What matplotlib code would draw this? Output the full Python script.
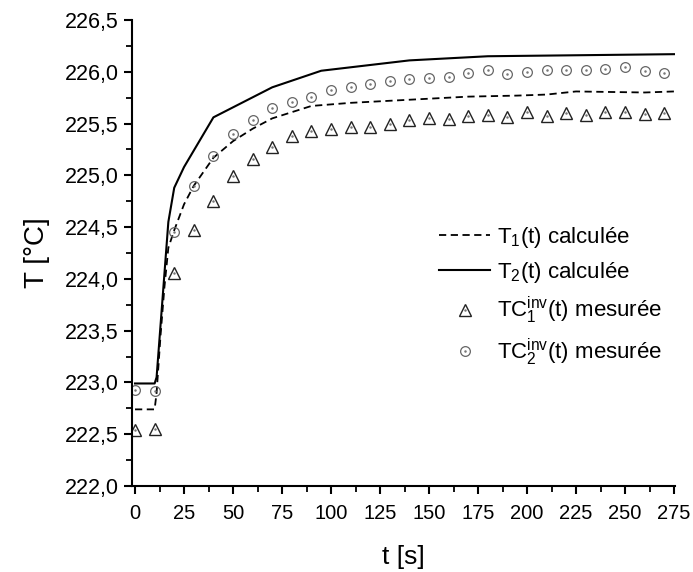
import matplotlib
matplotlib.use("Agg")
import matplotlib.pyplot as plt
from matplotlib.ticker import MultipleLocator, FuncFormatter
from matplotlib.legend_handler import HandlerTuple

plt.rcParams['font.family'] = ['Liberation Sans', 'DejaVu Sans']
plt.rcParams['mathtext.fontset'] = 'custom'
plt.rcParams['mathtext.rm'] = 'Liberation Sans'
plt.rcParams['mathtext.it'] = 'Liberation Sans:italic'

# computed curves
t1_calc = [0, 10, 11, 13, 15, 17, 20, 25, 30, 40, 50, 60, 70, 90, 110, 140, 170, 195, 210, 225, 260, 275]
T1_calc = [222.74, 222.74, 222.90, 223.45, 223.92, 224.30, 224.47, 224.72, 224.90, 225.17, 225.33,
           225.45, 225.55, 225.67, 225.70, 225.73, 225.76, 225.77, 225.78, 225.81, 225.80, 225.81]
t2_calc = [0, 10, 11, 13, 15, 17, 20, 25, 30, 40, 70, 95, 140, 180, 275]
T2_calc = [222.99, 222.99, 223.05, 223.55, 224.05, 224.55, 224.88, 225.08, 225.24, 225.56,
           225.85, 226.01, 226.11, 226.15, 226.17]

# measured points
t_meas = [0, 10, 20, 30, 40, 50, 60, 70, 80, 90, 100, 110, 120, 130, 140, 150, 160, 170,
          180, 190, 200, 210, 220, 230, 240, 250, 260, 270]
TC1_meas = [222.54, 222.55, 224.06, 224.47, 224.75, 224.99, 225.16, 225.27, 225.38, 225.43,
            225.45, 225.47, 225.47, 225.50, 225.53, 225.55, 225.54, 225.57, 225.58, 225.56,
            225.61, 225.57, 225.60, 225.58, 225.61, 225.61, 225.59, 225.60]
TC2_meas = [222.93, 222.92, 224.45, 224.90, 225.19, 225.40, 225.53, 225.65, 225.71, 225.76,
            225.82, 225.85, 225.88, 225.91, 225.93, 225.94, 225.95, 225.99, 226.02, 225.98,
            226.00, 226.02, 226.02, 226.02, 226.03, 226.05, 226.01, 225.99]

labels = [r'$\mathregular{T_1}$(t) calculée',
          r'$\mathregular{T_2}$(t) calculée',
          r'$\mathregular{TC^{inv}_1}$(t) mesurée',
          r'$\mathregular{TC^{inv}_2}$(t) mesurée']

fig = plt.figure(figsize=(6.93, 5.72), dpi=100)
ax = fig.add_axes([131.5/693, 1 - 486/572, (675 - 131.5)/693, (486 - 20)/572])

l1, = ax.plot(t1_calc, T1_calc, color='black', lw=1.3, ls=(0, (4, 2.5)))
l2, = ax.plot(t2_calc, T2_calc, color='black', lw=1.5, ls='-')
m1, = ax.plot(t_meas, TC1_meas, ls='none', marker='^', ms=8, mfc='none', mec='#222222', mew=1.0)
d1, = ax.plot(t_meas, TC1_meas, ls='none', marker='o', ms=0.8, mfc='#777777', mec='#777777')
m2, = ax.plot(t_meas, TC2_meas, ls='none', marker='o', ms=7, mfc='none', mec='#666666', mew=0.9)
d2, = ax.plot(t_meas, TC2_meas, ls='none', marker='o', ms=0.8, mfc='#777777', mec='#777777')

ax.set_xlim(-1.8, 275.5)
ax.set_ylim(222.0, 226.5)
ax.xaxis.set_major_locator(MultipleLocator(25))
ax.xaxis.set_minor_locator(MultipleLocator(12.5))
ax.yaxis.set_major_locator(MultipleLocator(0.5))
ax.yaxis.set_minor_locator(MultipleLocator(0.25))
ax.yaxis.set_major_formatter(FuncFormatter(lambda v, p: f'{v:.1f}'.replace('.', ',')))

for s in ['top', 'right']:
    ax.spines[s].set_visible(False)
for s in ['left', 'bottom']:
    ax.spines[s].set_linewidth(1.5)
ax.tick_params(which='major', direction='out', length=6, width=1.5, labelsize=15.5, pad=3)
ax.tick_params(axis='x', which='major', pad=7, labelsize=14.5)
ax.tick_params(which='minor', direction='out', length=4, width=1.3)

ax.set_xlabel('t [s]', fontsize=19, labelpad=16)
ax.set_ylabel('T [°C]', fontsize=20, labelpad=11)

fig.legend([l1, l2, (m1, d1), (m2, d2)], labels, loc='upper left',
           bbox_to_anchor=(428/693, 1 - 214/572), frameon=False, fontsize=16,
           handlelength=2.3, handletextpad=0.3, labelspacing=0.45, borderpad=0,
           handler_map={tuple: HandlerTuple(ndivide=1)})

fig.savefig('out.png', dpi=100)
